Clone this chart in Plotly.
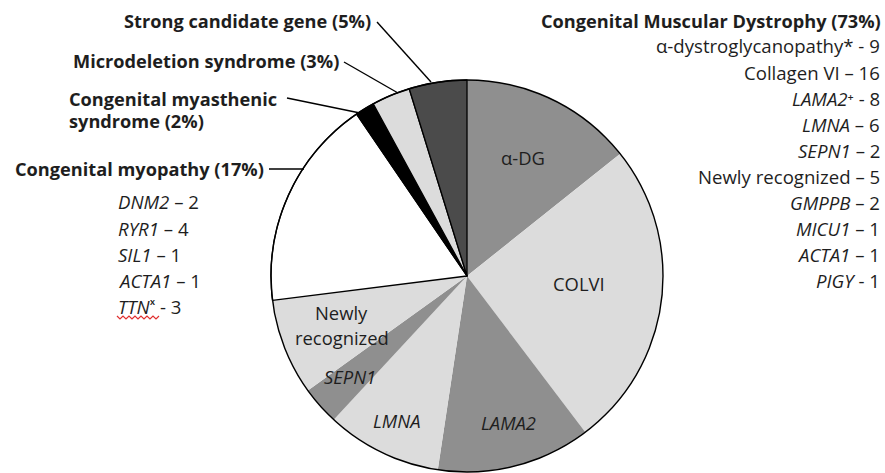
import plotly.graph_objects as go

W, H = 885, 473

# ---- data ----
slice_labels = ["α-DG", "COLVI", "LAMA2", "LMNA", "SEPN1", "Newly recognized",
                "Congenital myopathy", "Congenital myasthenic syndrome",
                "Microdeletion syndrome", "Strong candidate gene"]
slice_values = [9, 16, 8, 6, 2, 5, 11, 1, 2, 3]
slice_colors = ["#8f8f8f", "#dcdcdc", "#8f8f8f", "#dcdcdc", "#8f8f8f", "#dcdcdc",
                "#ffffff", "#000000", "#dcdcdc", "#4b4b4b"]
slice_borders = [0, 0, 0, 0, 0, 0, 1.3, 1.3, 1.3, 1.3]

cmd_title = "Congenital Muscular Dystrophy (73%)"
cmd_items = ["α-dystroglycanopathy* - 9", "Collagen VI – 16", "<i>LAMA2</i>⁺ - 8",
             "<i>LMNA</i> – 6", "<i>SEPN1</i> – 2", "Newly recognized – 5",
             "<i>GMPPB</i> – 2", "<i>MICU1</i> – 1", "<i>ACTA1</i> – 1", "<i>PIGY</i> - 1"]

myo_title = "Congenital myopathy (17%)"
myo_items = ["<i>DNM2</i> – 2", "<i>RYR1</i> – 4", "<i>SIL1</i> – 1",
             "<i>ACTA1</i> – 1", "<i>TTN</i>ˣ - 3"]

other_labels = ["Strong candidate gene (5%)", "Microdeletion syndrome (3%)",
                "Congenital myasthenic", "syndrome (2%)"]

FONT = "'Open Sans', Lato, sans-serif"
TXT = "#1e1e1e"
BS = 18.2   # bold size
RS = 18.6   # regular size
IS = 18.4   # inner label size

def px(x):
    return x / W

def py(y):
    return 1 - y / H

cx, cy, r = 467, 276, 196

fig = go.Figure(go.Pie(
    labels=slice_labels, values=slice_values, sort=False, direction="clockwise",
    rotation=0, textinfo="none", hoverinfo="label+value",
    marker=dict(colors=slice_colors, line=dict(color="black", width=slice_borders)),
    domain=dict(x=[px(cx - r), px(cx + r)], y=[py(cy + r), py(cy - r)]),
    showlegend=False,
))

ann = []
def add(text, x, y, xanchor="left", size=RS, bold=False):
    t = f"<b>{text}</b>" if bold else text
    ann.append(dict(text=t, x=px(x), y=py(y), xref="paper", yref="paper",
                    xanchor=xanchor, yanchor="middle", showarrow=False,
                    font=dict(family=FONT, size=size, color=TXT), align=xanchor))

# right block
add(cmd_title, 883, 21, "right", BS, True)
for i, t in enumerate(cmd_items):
    add(t, 882, 46 + 26.1 * i, "right", RS)

# left labels
add(other_labels[0], 373, 21, "right", BS, True)
add(other_labels[1], 341, 61, "right", BS, True)
add(other_labels[2], 67, 99, "left", BS, True)
add(other_labels[3], 67, 121, "left", BS, True)
add(myo_title, 266, 169, "right", BS, True)
for i, t in enumerate(myo_items):
    add(t, 116, 202 + 26 * i, "left", RS)

# inner slice labels
inner_pos = [(523, 157, "α-DG"), (579, 283, "COLVI"), (509, 422, "<i>LAMA2</i>"),
             (396, 420, "<i>LMNA</i>"), (350, 376, "<i>SEPN1</i>")]
for x, y, t in inner_pos:
    add(t, x, y, "center", IS)
add("Newly", 341, 312, "center", IS)
add("recognized", 342, 337, "center", IS)

fig.update_layout(annotations=ann)

shapes = []
# outer circle
shapes.append(dict(type="circle", xref="paper", yref="paper",
                   x0=px(cx - r), x1=px(cx + r), y0=py(cy + r), y1=py(cy - r),
                   line=dict(color="black", width=1.4)))
# leader lines
for (x0, y0, x1, y1) in [(377, 22, 431, 82), (344, 62, 398, 93),
                         (287, 98, 360, 113), (269, 169, 304, 169)]:
    shapes.append(dict(type="line", xref="paper", yref="paper",
                       x0=px(x0), y0=py(y0), x1=px(x1), y1=py(y1),
                       line=dict(color="black", width=1.4)))
# red spell-check squiggle under TTN
sq = "M " + " L ".join(
    f"{px(117 + 3 * k):.5f},{py(317 + (2 if k % 2 else -1)):.5f}" for k in range(15))
shapes.append(dict(type="path", xref="paper", yref="paper", path=sq,
                   line=dict(color="#e03030", width=1.2)))

fig.update_layout(shapes=shapes, width=W, height=H,
                  margin=dict(l=0, r=0, t=0, b=0),
                  paper_bgcolor="white", plot_bgcolor="white")

fig.write_html("out.html", config={"displayModeBar": False},
               post_script="document.body.style.margin='0';document.body.style.overflow='hidden';")
